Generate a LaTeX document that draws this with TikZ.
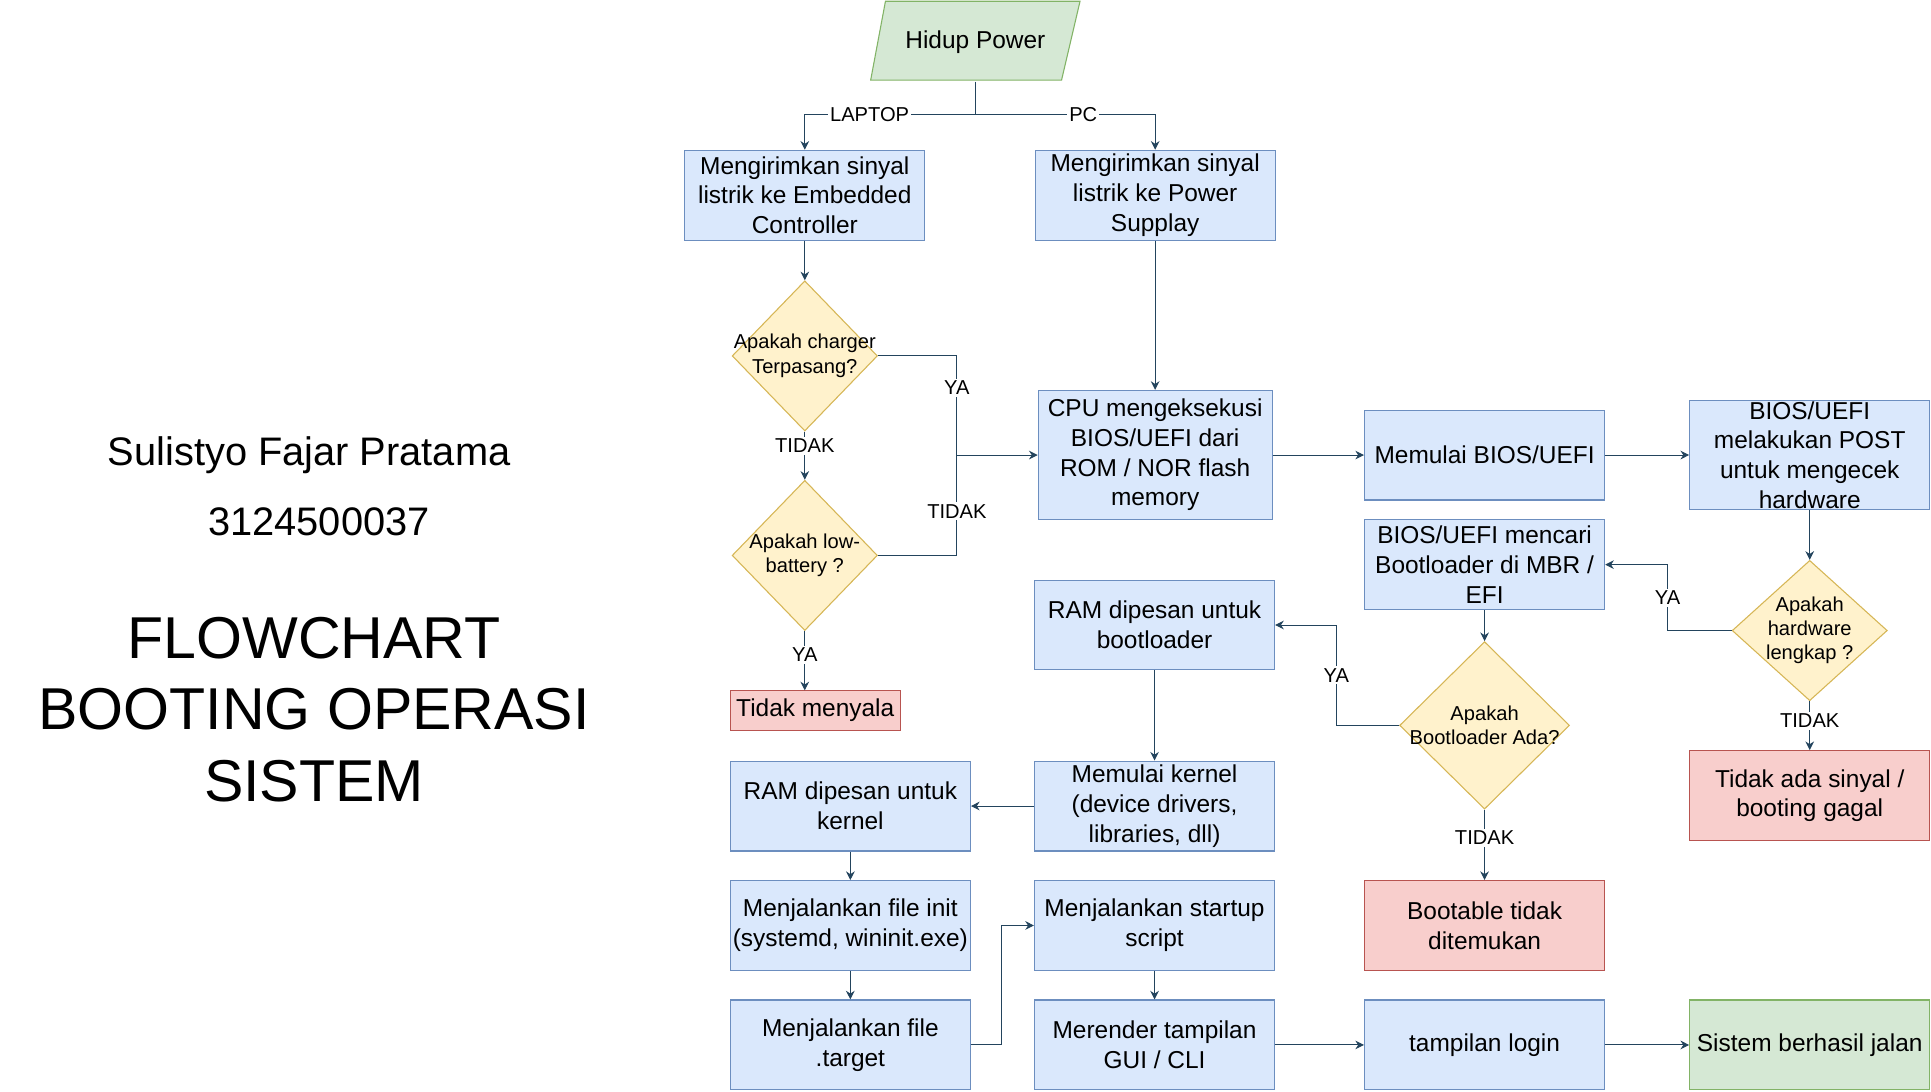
\documentclass[tikz,border=0pt]{standalone}
\usepackage{fontspec}
\setmainfont{Liberation Sans}
\definecolor{fcblue}{HTML}{DAE8FC}
\definecolor{fcblueline}{HTML}{6C8EBF}
\definecolor{fcyellow}{HTML}{FFF2CC}
\definecolor{fcyellowline}{HTML}{D6B656}
\definecolor{fcred}{HTML}{F8CECC}
\definecolor{fcredline}{HTML}{B85450}
\definecolor{fcgreen}{HTML}{D5E8D4}
\definecolor{fcgreenline}{HTML}{82B366}
\definecolor{fcarrow}{HTML}{23445D}
\usetikzlibrary{arrows.meta,positioning,shapes.geometric,calc}

\begin{document}
\begin{tikzpicture}[x=0.02cm,y=-0.02cm,
  bootbox/.style={draw=fcblueline,fill=fcblue,line width=0.5pt,minimum width=3.9cm,minimum height=1.46cm,
    align=center,inner sep=1pt,font=\fontsize{11.3}{13.7}\selectfont},
  bootred/.style={bootbox,draw=fcredline,fill=fcred},
  bootgreen/.style={bootbox,draw=fcgreenline,fill=fcgreen},
  bootdia/.style={diamond,draw=fcyellowline,fill=fcyellow,line width=0.5pt,inner sep=0pt},
  bootdtxt/.style={align=center,font=\fontsize{9.3}{11.2}\selectfont},
  bootarr/.style={-{Stealth[length=4pt,width=4pt]},line width=0.45pt,fcarrow},
  bootline/.style={line width=0.45pt,fcarrow},
  bootlbl/.style={fill=white,text=black,inner sep=1pt,font=\fontsize{9.3}{11.2}\selectfont}
]
  \useasboundingbox (0,0) rectangle (1568,886);
  % Title (left)
  \node[font=\fontsize{18.4}{22}\selectfont] (author) at (251,370) {Sulistyo Fajar Pratama};
  \node[font=\fontsize{18.4}{22}\selectfont] (nrp) at (259,424) {3124500037};
  \node[align=center,font=\fontsize{27.3}{33}\selectfont] (title) at (255,576) {FLOWCHART\\BOOTING OPERASI\\SISTEM};
  % Start
  \draw[fill=fcgreen,draw=fcgreenline,line width=0.5pt] (707,65) -- (719,1) -- (877,1) -- (862,65) -- cycle;
  \node[font=\fontsize{11.3}{13.7}\selectfont,minimum height=1.28cm] (power) at (792,34) {Hidup Power};
  % Laptop / PC branch
  \node[bootbox] (ec) at (653.5,158.5) {Mengirimkan sinyal\\listrik ke Embedded\\Controller};
  \node[bootbox] (ps) at (938,158.5) {Mengirimkan sinyal\\listrik ke Power\\Supplay};
  \node[bootdia,minimum width=2.36cm,minimum height=2.44cm,
    label={[bootdtxt]center:Apakah charger\\Terpasang?}] (charger) at (653.5,289) {};
  \node[bootdia,minimum width=2.36cm,minimum height=2.44cm,
    label={[bootdtxt]center:Apakah low-\\battery ?}] (lowbat) at (653.5,451) {};
  \node[bootred,minimum width=2.76cm,minimum height=0.64cm] (menyala) at (662,577) {Tidak menyala};
  % BIOS / UEFI
  \node[bootbox,minimum width=3.8cm,minimum height=2.1cm] (cpu) at (938,369.5) {CPU mengeksekusi\\BIOS/UEFI dari\\ROM / NOR flash\\memory};
  \node[bootbox] (bios) at (1205.5,369.5) {Memulai BIOS/UEFI};
  \node[bootbox,minimum height=1.78cm,inner ysep=-4pt] (post) at (1469.5,369.5) {BIOS/UEFI\\melakukan POST\\untuk mengecek\\hardware};
  \node[bootdia,minimum width=2.52cm,minimum height=2.28cm,
    label={[bootdtxt]center:Apakah\\hardware\\lengkap ?}] (hwok) at (1469.5,512) {};
  \node[bootred] (gagal) at (1469.5,646) {Tidak ada sinyal /\\booting gagal};
  \node[bootbox] (cari) at (1205.5,458.5) {BIOS/UEFI mencari\\Bootloader di MBR /\\EFI};
  \node[bootdia,minimum width=2.76cm,minimum height=2.72cm,
    label={[bootdtxt]center:Apakah\\Bootloader Ada?}] (blada) at (1205.5,589) {};
  \node[bootred] (nobootable) at (1205.5,751.5) {Bootable tidak\\ditemukan};
  % Kernel and OS
  \node[bootbox] (rambl) at (937.5,507.5) {RAM dipesan untuk\\bootloader};
  \node[bootbox] (kernel) at (937.5,654.5) {Memulai kernel\\(device drivers,\\libraries, dll)};
  \node[bootbox] (ramk) at (690.5,654.5) {RAM dipesan untuk\\kernel};
  \node[bootbox] (init) at (690.5,751.5) {Menjalankan file init\\(systemd, wininit.exe)};
  \node[bootbox] (target) at (690.5,848.5) {Menjalankan file\\.target};
  \node[bootbox] (startup) at (937.5,751.5) {Menjalankan startup\\script};
  \node[bootbox] (render) at (937.5,848.5) {Merender tampilan\\GUI / CLI};
  \node[bootbox] (login) at (1205.5,848.5) {tampilan login};
  \node[bootgreen] (ok) at (1469.5,848.5) {Sistem berhasil jalan};
  % Connectors
  \coordinate (split) at (792,93);
  \coordinate (join) at (777,369.5);
  \draw[bootline] (power.south) -- (split);
  \draw[bootarr] (split) -| node[bootlbl,pos=0.31] {LAPTOP} (ec.north);
  \draw[bootarr] (split) -| node[bootlbl,pos=0.3] {PC} (ps.north);
  \draw[bootarr] (ec.south) -- (charger.north);
  \draw[bootarr] (charger.south) -- node[bootlbl,pos=0.3] {TIDAK} (lowbat.north);
  \draw[bootline] (charger.east) -| node[bootlbl,pos=0.66] {YA} (join);
  \draw[bootline] (lowbat.east) -| node[bootlbl,pos=0.72] {TIDAK} (join);
  \draw[bootarr] (join) -- (cpu.west);
  \draw[bootarr] (lowbat.south) -- node[bootlbl,pos=0.4] {YA} (lowbat.south |- menyala.north);
  \draw[bootarr] (ps.south) -- (cpu.north);
  \draw[bootarr] (cpu.east) -- (bios.west);
  \draw[bootarr] (bios.east) -- (post.west);
  \draw[bootarr] (post.south) -- (hwok.north);
  \draw[bootarr] (hwok.west) -- ++(-52,0) |- node[bootlbl,pos=0.25] {YA} (cari.east);
  \draw[bootarr] (hwok.south) -- node[bootlbl,pos=0.4] {TIDAK} (gagal.north);
  \draw[bootarr] (cari.south) -- (blada.north);
  \draw[bootarr] (blada.west) -- ++(-51,0) |- node[bootlbl,pos=0.25] {YA} (rambl.east);
  \draw[bootarr] (blada.south) -- node[bootlbl,pos=0.4] {TIDAK} (nobootable.north);
  \draw[bootarr] (rambl.south) -- (kernel.north);
  \draw[bootarr] (kernel.west) -- (ramk.east);
  \draw[bootarr] (ramk.south) -- (init.north);
  \draw[bootarr] (init.south) -- (target.north);
  \draw[bootarr] (target.east) -- ++(25,0) |- (startup.west);
  \draw[bootarr] (startup.south) -- (render.north);
  \draw[bootarr] (render.east) -- (login.west);
  \draw[bootarr] (login.east) -- (ok.west);
\end{tikzpicture}
\end{document}
